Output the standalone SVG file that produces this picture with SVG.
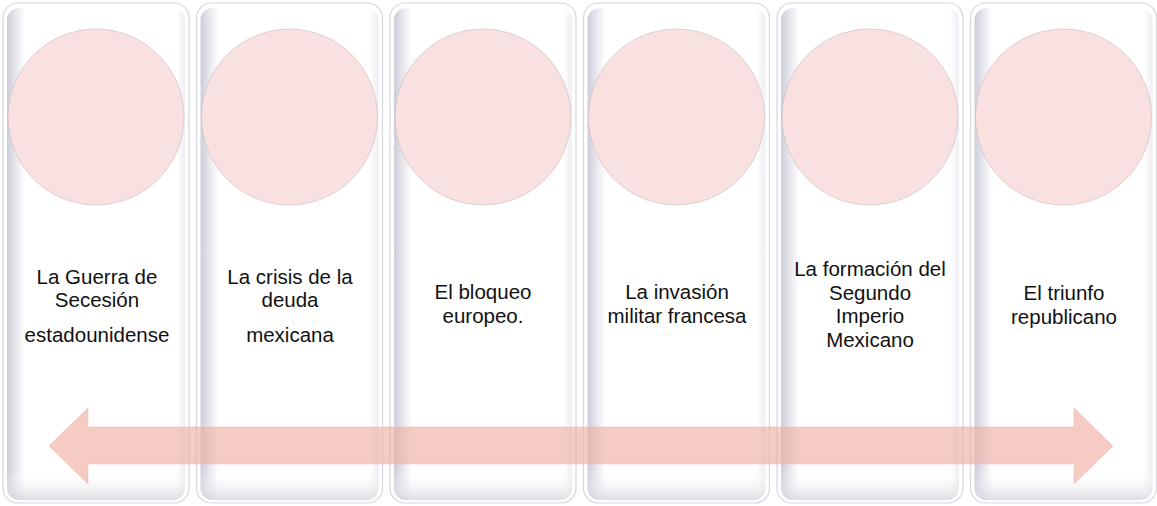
<svg xmlns="http://www.w3.org/2000/svg" width="1157" height="506" viewBox="0 0 1157 506">
<defs>
<style>
.panel{fill:#ffffff;stroke:#d6d6dc;stroke-width:1.2}
.inner{fill:url(#gh)}
.innerb{fill:url(#gv)}
.circ{fill:#F9E1E1;stroke:#c9b9b9;stroke-width:1;stroke-opacity:0.6}
.t{font-family:"Liberation Sans",Arial,sans-serif;font-size:20.5px;fill:#111111;text-anchor:middle}
</style>
<linearGradient id="gh" x1="0" y1="0" x2="1" y2="0">
<stop offset="0" stop-color="#cdcddb"/>
<stop offset="0.04" stop-color="#e2e2ea"/>
<stop offset="0.1" stop-color="#ffffff" stop-opacity="1"/>
<stop offset="0.95" stop-color="#ffffff"/>
<stop offset="1" stop-color="#eeeef3"/>
</linearGradient>
<linearGradient id="gv" x1="0" y1="0" x2="0" y2="1">
<stop offset="0" stop-color="#ffffff" stop-opacity="0"/>
<stop offset="0.94" stop-color="#ffffff" stop-opacity="0"/>
<stop offset="1" stop-color="#d4d4de" stop-opacity="0.8"/>
</linearGradient>
</defs>
<rect width="1157" height="506" fill="#ffffff"/>
<g id="node1">
<rect class="panel" x="3" y="3" width="186" height="500" rx="15"/>
<rect class="inner" x="7" y="8" width="178" height="492" rx="12"/>
<rect class="innerb" x="7" y="8" width="178" height="492" rx="12"/>
<circle class="circ" cx="96" cy="117" r="88"/>
<text class="t" x="97" y="284">La Guerra de</text>
<text class="t" x="97" y="307">Secesión</text>
<text class="t" x="97" y="342">estadounidense</text>
</g>
<g id="node2">
<rect class="panel" x="196.5" y="3" width="186" height="500" rx="15"/>
<rect class="inner" x="200.5" y="8" width="178" height="492" rx="12"/>
<rect class="innerb" x="200.5" y="8" width="178" height="492" rx="12"/>
<circle class="circ" cx="289.5" cy="117" r="88"/>
<text class="t" x="290" y="284">La crisis de la</text>
<text class="t" x="290" y="307">deuda</text>
<text class="t" x="290" y="342">mexicana</text>
</g>
<g id="node3">
<rect class="panel" x="390" y="3" width="186" height="500" rx="15"/>
<rect class="inner" x="394" y="8" width="178" height="492" rx="12"/>
<rect class="innerb" x="394" y="8" width="178" height="492" rx="12"/>
<circle class="circ" cx="483" cy="117" r="88"/>
<text class="t" x="483" y="299">El bloqueo</text>
<text class="t" x="483" y="323">europeo.</text>
</g>
<g id="node4">
<rect class="panel" x="583.5" y="3" width="186" height="500" rx="15"/>
<rect class="inner" x="587.5" y="8" width="178" height="492" rx="12"/>
<rect class="innerb" x="587.5" y="8" width="178" height="492" rx="12"/>
<circle class="circ" cx="676.5" cy="117" r="88"/>
<text class="t" x="677" y="299">La invasión</text>
<text class="t" x="677" y="323">militar francesa</text>
</g>
<g id="node5">
<rect class="panel" x="777" y="3" width="186" height="500" rx="15"/>
<rect class="inner" x="781" y="8" width="178" height="492" rx="12"/>
<rect class="innerb" x="781" y="8" width="178" height="492" rx="12"/>
<circle class="circ" cx="870" cy="117" r="88"/>
<text class="t" x="870" y="276">La formación del</text>
<text class="t" x="870" y="299.5">Segundo</text>
<text class="t" x="870" y="323">Imperio</text>
<text class="t" x="870" y="347">Mexicano</text>
</g>
<g id="node6">
<rect class="panel" x="970.5" y="3" width="186" height="500" rx="15"/>
<rect class="inner" x="974.5" y="8" width="178" height="492" rx="12"/>
<rect class="innerb" x="974.5" y="8" width="178" height="492" rx="12"/>
<circle class="circ" cx="1063.5" cy="117" r="88"/>
<text class="t" x="1064" y="300">El triunfo</text>
<text class="t" x="1064" y="324">republicano</text>
</g>
<g id="connectors">
<polygon points="49,446 88,408 88,427 1074,427 1074,408 1113,446 1074,484 1074,464 88,464 88,484" fill="#EFAFA5" fill-opacity="0.65" stroke="#e9b0a8" stroke-opacity="0.4" stroke-width="1"/>
</g>
</svg>
